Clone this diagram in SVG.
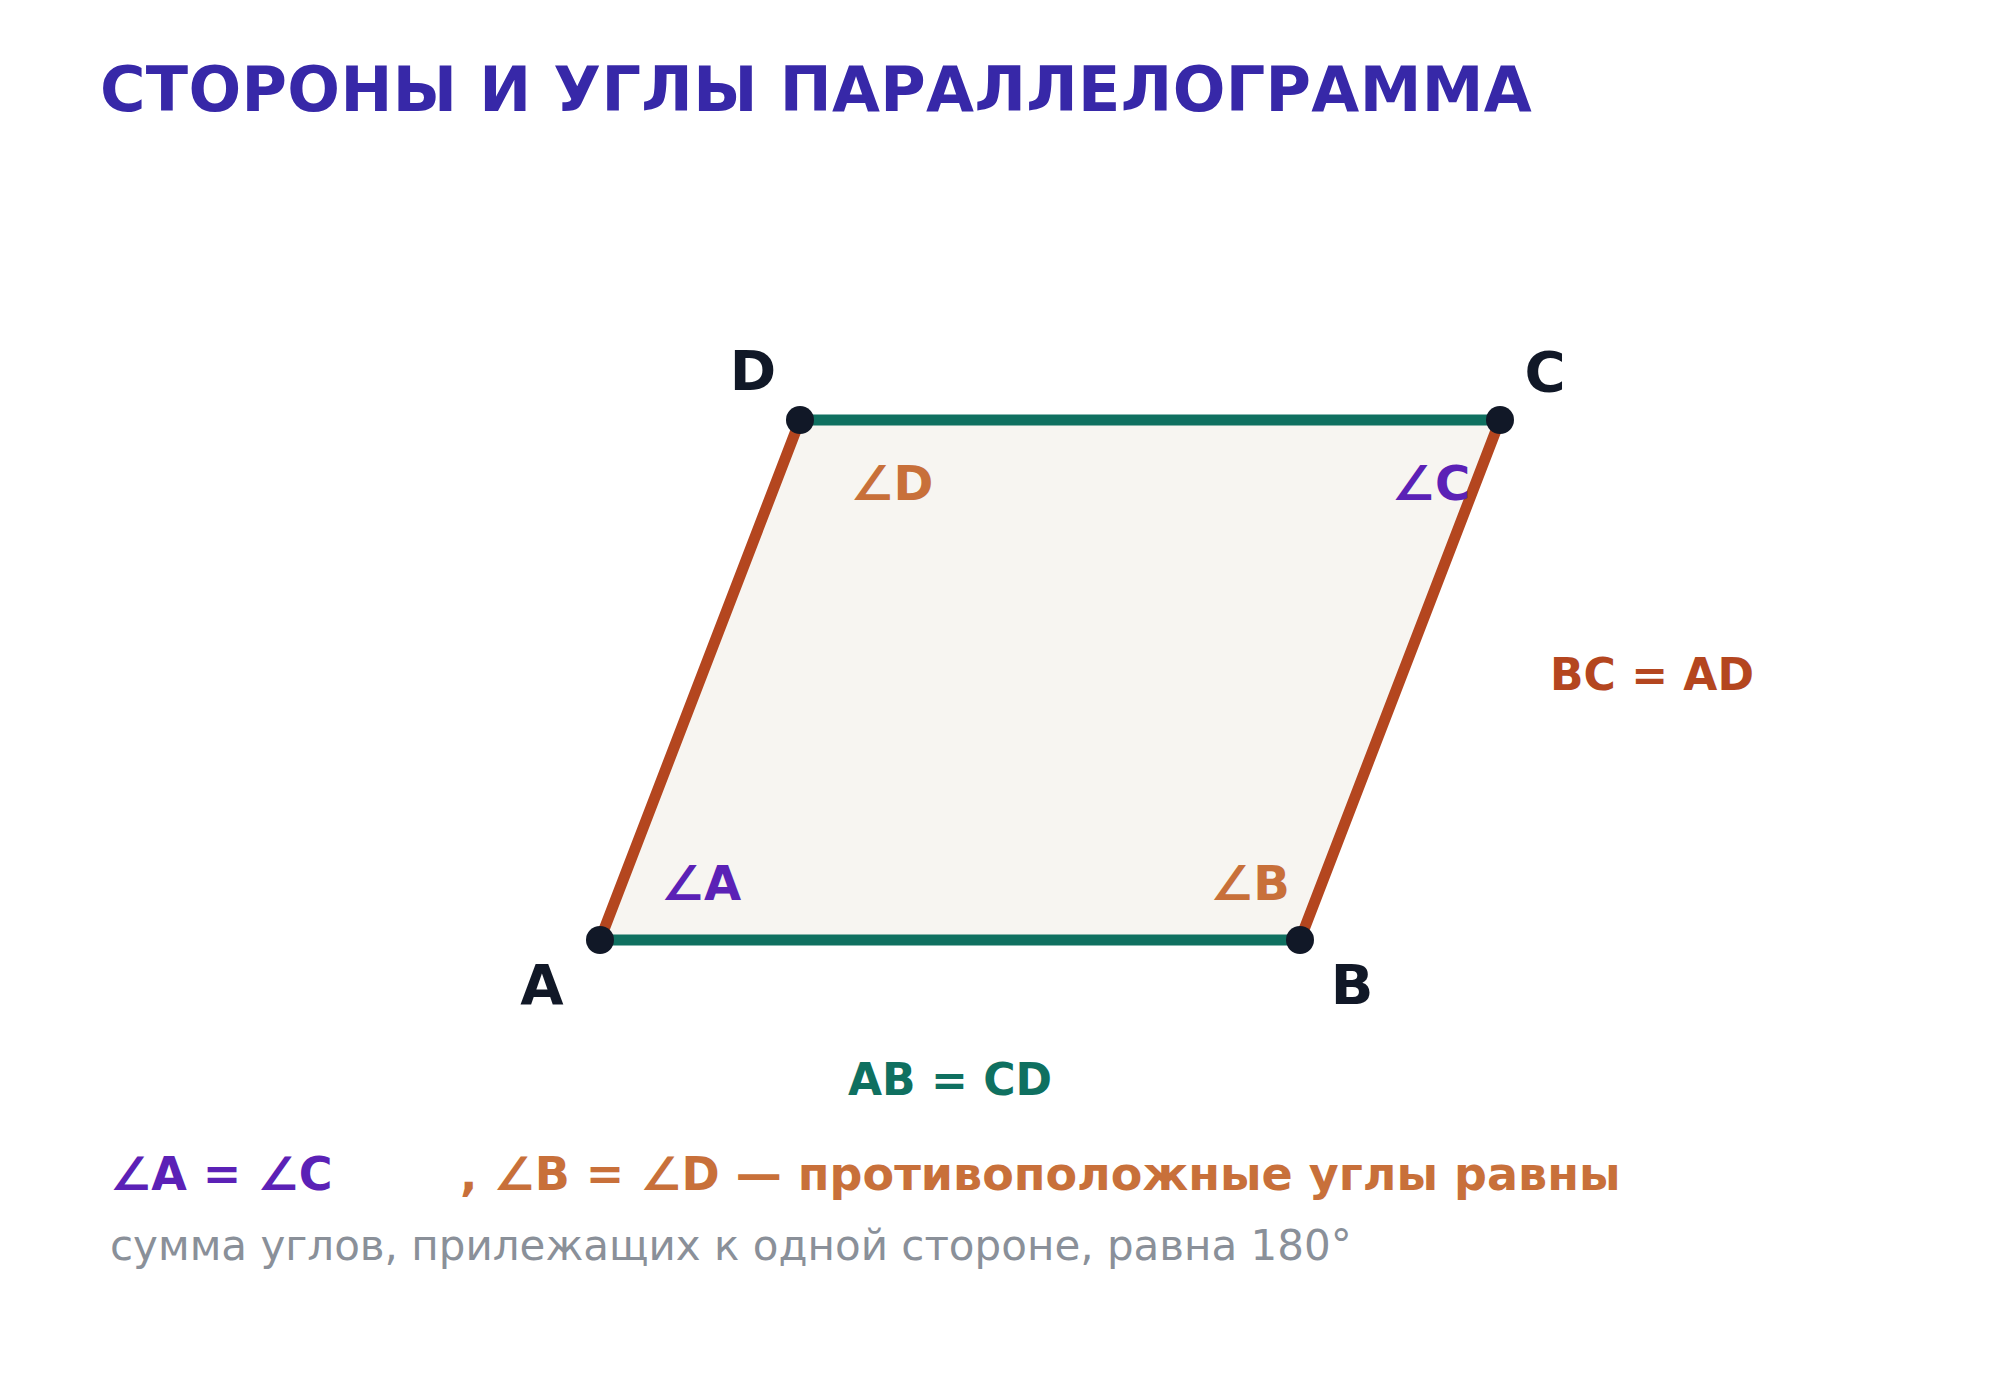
<svg xmlns="http://www.w3.org/2000/svg" width="2000" height="1400" viewBox="0 0 2000 1400">
  <style>
    text { font-family: "DejaVu Sans", "Liberation Sans", sans-serif; }
    .title { font-size: 62px; font-weight: bold; fill: #3728a8; letter-spacing: 0.35px; }
    .pt { font-size: 56px; font-weight: bold; fill: #111827; text-anchor: middle; }
    .ang { font-size: 48px; font-weight: bold; text-anchor: middle; }
    .eq { font-size: 44px; font-weight: bold; }
    .purple { fill: #5b21b6; }
    .orange { fill: #c8703a; }
    .brown { fill: #b4461f; }
    .teal { fill: #0f7060; }
    .note { font-size: 46px; font-weight: bold; }
    .gray { font-size: 42px; fill: #8a9099; }
    .side-ab { stroke: #0f7060; stroke-width: 11; stroke-linecap: round; fill: none; }
    .side-ad { stroke: #b4461f; stroke-width: 11; stroke-linecap: round; fill: none; }
    .dot { fill: #111827; }
  </style>
  <rect width="2000" height="1400" fill="#ffffff"/>
  <text class="title" x="100" y="111">СТОРОНЫ И УГЛЫ ПАРАЛЛЕЛОГРАММА</text>

  <g id="shape">
    <polygon points="600,940 1300,940 1500,420 800,420" fill="#f7f5f1"/>
  </g>

  <g id="connectors">
    <line class="side-ab" x1="600" y1="940" x2="1300" y2="940"/>
    <line class="side-ab" x1="800" y1="420" x2="1500" y2="420"/>
    <line class="side-ad" x1="600" y1="940" x2="800" y2="420"/>
    <line class="side-ad" x1="1300" y1="940" x2="1500" y2="420"/>
  </g>

  <g id="node-A">
    <circle class="dot" cx="600" cy="940" r="14"/>
    <text class="pt" x="542" y="1004">A</text>
    <text class="ang purple" x="701" y="900">∠A</text>
  </g>
  <g id="node-B">
    <circle class="dot" cx="1300" cy="940" r="14"/>
    <text class="pt" x="1352" y="1004">B</text>
    <text class="ang orange" x="1250" y="900">∠B</text>
  </g>
  <g id="node-C">
    <circle class="dot" cx="1500" cy="420" r="14"/>
    <text class="pt" x="1545" y="391">C</text>
    <text class="ang purple" x="1431" y="500">∠C</text>
  </g>
  <g id="node-D">
    <circle class="dot" cx="800" cy="420" r="14"/>
    <text class="pt" x="753" y="390">D</text>
    <text class="ang orange" x="892" y="500">∠D</text>
  </g>

  <g id="side-labels">
    <text class="eq brown" x="1550" y="690">BC = AD</text>
    <text class="eq teal" x="950" y="1095" text-anchor="middle">AB = CD</text>
  </g>

  <g id="notes">
    <text class="note purple" x="110" y="1190">∠A = ∠C</text>
    <text class="note orange" x="460" y="1190">, ∠B = ∠D — противоположные углы равны</text>
    <text class="gray" x="110" y="1260">сумма углов, прилежащих к одной стороне, равна 180°</text>
  </g>
</svg>
